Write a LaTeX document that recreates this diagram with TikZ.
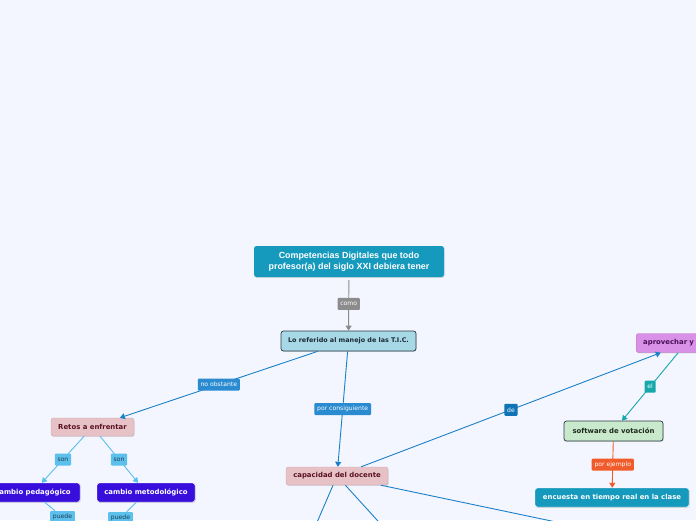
\documentclass[tikz,border=0pt]{standalone}
\usepackage{fontspec}
\setmainfont{DejaVu Sans}
\newfontfamily\titlefont{Liberation Sans}
\usetikzlibrary{arrows.meta,shadows}
\definecolor{bg}{HTML}{F3F6FE}
\definecolor{titlec}{HTML}{1599BD}
\definecolor{lorefc}{HTML}{A6D8E6}
\definecolor{darkb}{HTML}{2A3A45}
\definecolor{textdark}{HTML}{1E2A35}
\definecolor{linec}{HTML}{1A80C8}
\definecolor{lblue}{HTML}{2A8BD0}
\definecolor{dblue}{HTML}{0F73B5}
\definecolor{grayc}{HTML}{8C8C8C}
\definecolor{skyc}{HTML}{5BC0EB}
\definecolor{skytext}{HTML}{1F3D55}
\definecolor{violetc}{HTML}{380EDD}
\definecolor{pinkc}{HTML}{E6C2C7}
\definecolor{pinkb}{HTML}{CFA2AA}
\definecolor{maroon}{HTML}{5A1020}
\definecolor{purplec}{HTML}{D891E6}
\definecolor{purpleb}{HTML}{B870C8}
\definecolor{purplet}{HTML}{4A0F5A}
\definecolor{tealc}{HTML}{16A8AA}
\definecolor{greenc}{HTML}{C9E9CC}
\definecolor{greent}{HTML}{1E2A1E}
\definecolor{orangec}{HTML}{F15A29}
\tikzset{
  box/.style={rounded corners=2.5pt, inner sep=0pt,
    font=\fontsize{6.9}{8}\selectfont\bfseries,
    drop shadow={opacity=0.25,shadow xshift=0.6pt,shadow yshift=-0.9pt}},
  lbl/.style={rounded corners=1pt, inner xsep=2.8pt, inner ysep=0pt,
    minimum height=12pt, text=white, font=\fontsize{6.1}{6.5}\selectfont},
  con/.style={line width=0.9pt},
  tip/.style={-{Triangle[length=5pt,width=6pt]}}
}
\begin{document}
\begin{tikzpicture}[x=1pt,y=-1pt]
\useasboundingbox (0,0) rectangle (696,520);
\clip (0,0) rectangle (696,520);
\fill[bg] (0,0) rectangle (696,520);

% nodes
\node[box, fill=titlec, text=white, minimum width=190, minimum height=31, align=center,
  font=\titlefont\fontsize{8.9}{11}\selectfont\bfseries] (t) at (349,261.5)
  {Competencias Digitales que todo\\profesor(a) del siglo XXI debiera tener};
\node[box, fill=lorefc, draw=darkb, line width=0.7pt, minimum width=135, minimum height=20,
  text=textdark, font=\fontsize{6.4}{7.5}\selectfont\bfseries] (lr) at (348.5,341) {Lo referido al manejo de las T.I.C.};
\node[box, fill=pinkc, draw=pinkb, line width=0.4pt, minimum width=83, minimum height=18,
  text=maroon] (re) at (92.5,427) {Retos a enfrentar};
\node[box, fill=violetc, draw=white, line width=0.4pt, minimum width=94, minimum height=19,
  text=white] (cp) at (33,492.5) {cambio pedagógico};
\node[box, fill=violetc, draw=white, line width=0.4pt, minimum width=98, minimum height=19,
  text=white] (cm) at (146,492.5) {cambio metodológico};
\node[box, fill=pinkc, draw=pinkb, line width=0.4pt, minimum width=102, minimum height=18,
  text=maroon] (cd) at (337,476) {capacidad del docente};
\node[box, fill=purplec, draw=purpleb, line width=0.4pt, minimum height=19, anchor=west,
  inner xsep=7pt, text width=86pt, align=left, text=purplet] (ap) at (636,343) {aprovechar y};
\node[box, fill=greenc, draw=darkb, line width=0.7pt, minimum width=99, minimum height=20,
  text=greent] (sv) at (613.5,431) {software de votación};
\node[box, fill=titlec, draw=white, line width=0.4pt, minimum width=154, minimum height=19,
  text=white] (en) at (612,497.5) {encuesta en tiempo real en la clase};

\node[lbl, fill=skyc, text=skytext] (p1) at (62.5,517) {puede};
\node[lbl, fill=skyc, text=skytext] (p2) at (120.5,518) {puede};

\coordinate (c1) at (309.4,540);
\coordinate (c2) at (395.2,540);
\coordinate (c3) at (642,540);

% connectors
\draw[con, grayc, tip, shorten <=3pt] (t) -- node[lbl, fill=grayc]{como} (lr);
\draw[con, linec, tip] (lr) -- node[lbl, fill=lblue]{no obstante} (re);
\draw[con, linec, tip] (lr) -- node[lbl, fill=lblue]{por consiguiente} (cd);
\draw[con, skyc, tip] (re) -- node[lbl, fill=skyc, text=skytext]{son} (cp);
\draw[con, skyc, tip] (re) -- node[lbl, fill=skyc, text=skytext]{son} (cm);
\draw[con, skyc] (cp) -- (p1);
\draw[con, skyc] (cm) -- (p2);
\draw[con, linec, tip] (cd) -- node[lbl, fill=dblue]{de} (ap);
\draw[con, tealc, tip] (ap) -- node[lbl, fill=tealc]{el} (sv);
\draw[con, orangec, tip] (sv) -- node[lbl, fill=orangec]{por ejemplo} (en);
\draw[con, linec] (cd) -- (c1);
\draw[con, linec] (cd) -- (c2);
\draw[con, linec] (cd) -- (c3);
\end{tikzpicture}
\end{document}
